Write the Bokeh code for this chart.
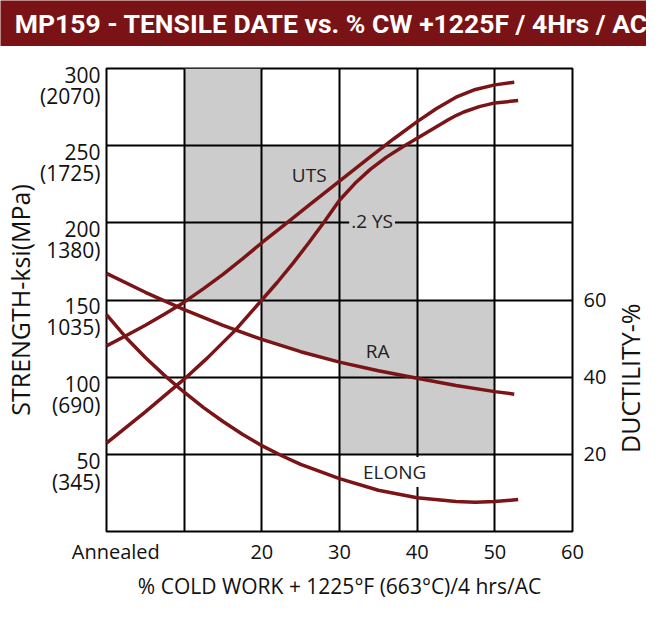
from math import pi

from bokeh.plotting import figure
from bokeh.layouts import column, row
from bokeh.models import Range1d, LinearAxis, FixedTicker, Label
from bokeh.core.properties import value
from bokeh.embed import file_html
from bokeh.resources import INLINE

TITLE = "MP159 - TENSILE DATE vs. % CW +1225F / 4Hrs / AC"
BAR = "#7a1315"
RED = "#7b1416"
GREY = "#cccccc"
FONT = "Open Sans"
INK = "#111111"

# % cold work -> strength (ksi)
uts_cw = [0, 2.5, 5, 7.5, 10, 12.5, 15, 17.5, 20, 22.5, 26, 30, 34, 37, 40, 42.5, 45, 47.5, 50, 52.5]
uts_ksi = [120.3, 126.8, 133.6, 141, 148.6, 157.4, 166.6, 176.6, 187.1, 197.1, 211.1, 227.1,
           242.9, 254.5, 265.6, 274.1, 281.4, 286.4, 289.4, 291.1]
ys_cw = [0, 5, 10, 13, 16.5, 20, 22, 24, 26, 28, 30, 32, 34, 36, 38, 40, 42, 44, 45, 46, 48, 50, 53]
ys_ksi = [57.2, 77.5, 98.7, 112.5, 130, 150, 161.5, 173.7, 186.8, 200.4, 214.6, 225.6, 234.8,
          242.4, 248.8, 254.8, 260.8, 266.8, 269.5, 271.8, 275.3, 277.7, 279.2]

# % cold work -> ductility (%)
ra_cw = [0, 5, 10, 15, 20, 25, 30, 35, 40, 45, 50, 52.5]
ra_pct = [66.9, 62.0, 57.5, 53.4, 49.8, 46.6, 43.9, 41.65, 39.7, 37.85, 36.25, 35.6]
elong_cw = [0, 2.5, 5, 7.5, 10, 12.5, 15, 17.5, 20, 22.5, 25, 30, 35, 40, 45, 47.5, 50, 53]
elong_pct = [56.2, 50.3, 45.1, 40.4, 36.1, 32.1, 28.5, 25.2, 22.25, 19.7, 17.4, 13.7, 10.7,
             8.75, 7.8, 7.6, 7.75, 8.3]

# axis ticks
ksi_ticks = [50, 100, 150, 200, 250, 300]
ksi_labels = ["50\n(345)", "100\n(690)", "150\n1035)", "200\n1380)", "250\n(1725)", "300\n(2070)"]
duct_ticks = [20, 40, 60]
cw_grid = [10, 20, 30, 40, 50]
cw_ticks = [20, 30, 40, 50, 60]

# grey shaded cells: cold work span x ksi span
shade_left = [10, 30, 40]
shade_right = [20, 40, 50]
shade_bottom = [150, 50, 50]
shade_top = [300, 250, 150]

# title bar
t = figure(width=646, height=46, x_range=Range1d(0, 1), y_range=Range1d(0, 1),
           x_axis_type=None, y_axis_type=None, min_border=0,
           output_backend="svg", toolbar_location=None)
t.outline_line_color = None
t.background_fill_color = BAR
t.border_fill_color = BAR
t.text(x=[0.512], y=[0.5], text=[TITLE], text_align="center", text_baseline="middle",
       text_color="white", text_font=value("Roboto"),
       text_font_style="bold", text_font_size="26.5px")

# main chart
p = figure(width=612, height=556, x_range=Range1d(0, 60), y_range=Range1d(0, 300),
           output_backend="svg", toolbar_location=None,
           min_border_left=106, min_border_right=40, min_border_top=22, min_border_bottom=66)
p.extra_y_ranges = {"duct": Range1d(0, 120)}
p.outline_line_color = "black"
p.outline_line_width = 2

p.xgrid.ticker = FixedTicker(ticks=cw_grid)
p.ygrid.ticker = FixedTicker(ticks=ksi_ticks[:-1])
p.grid.grid_line_color = "black"
p.grid.grid_line_width = 2

# shaded region
p.quad(left=shade_left, right=shade_right, bottom=shade_bottom, top=shade_top,
       fill_color=GREY, line_color=None, level="image")
ra_mid = [(c, v * 2.5) for c, v in zip(ra_cw, ra_pct) if 20 <= c <= 30]
p.patch([20, 30] + [c for c, _ in ra_mid][::-1], [250, 250] + [k for _, k in ra_mid][::-1],
        fill_color=GREY, line_color=None, level="image")

# curves (drawn over the label boxes)
p.line(uts_cw, uts_ksi, line_color=RED, line_width=3.5, level="overlay")
p.line(ys_cw, ys_ksi, line_color=RED, line_width=3.5, level="overlay")
p.line(ra_cw, ra_pct, line_color=RED, line_width=3.5, y_range_name="duct", level="overlay")
p.line(elong_cw, elong_pct, line_color=RED, line_width=3.5, y_range_name="duct", level="overlay")

# axes
xa = p.xaxis[0]
xa.ticker = FixedTicker(ticks=[1.2] + cw_ticks)
xa.major_label_overrides = {1.2: "Annealed", **{c: str(c) for c in cw_ticks}}
xa.axis_label = "% COLD WORK + 1225°F (663°C)/4 hrs/AC"
xa.axis_label_standoff = 4

ya = p.yaxis[0]
ya.ticker = FixedTicker(ticks=[k - 11 for k in ksi_ticks])
ya.major_label_overrides = {k - 11: s for k, s in zip(ksi_ticks, ksi_labels)}
ya.major_label_text_line_height = 0.75
ya.axis_label = "STRENGTH-ksi(MPa)"
ya.axis_label_standoff = 0

ra_axis = LinearAxis(y_range_name="duct", ticker=FixedTicker(ticks=duct_ticks))
p.add_layout(ra_axis, "right")

for ax in [xa, ya, ra_axis]:
    ax.axis_line_color = None
    ax.major_tick_in = 0
    ax.major_tick_out = 0
    ax.minor_tick_line_color = None
    ax.major_label_text_font = FONT
    ax.major_label_text_font_size = "20px"
    ax.major_label_text_color = INK
    ax.axis_label_text_font = FONT
    ax.axis_label_text_font_style = "normal"
    ax.axis_label_text_color = INK
xa.axis_label_text_font_size = "21px"
ya.axis_label_text_font_size = "25px"
ya.major_label_text_font_size = "21px"
xa.major_label_standoff = 6
ya.major_label_standoff = 6
ra_axis.major_label_standoff = 11

# curve names
p.add_layout(Label(x=26.1, y=230.8, text="UTS", text_align="center", text_baseline="middle",
                   text_font=FONT, text_font_size="19px", text_color="#222222"))
p.add_layout(Label(x=34.2, y=201.3, text=".2 YS", text_align="center", text_baseline="middle",
                   text_font=FONT, text_font_size="19px", text_color="#222222",
                   background_fill_color=GREY, padding=2))
p.add_layout(Label(x=34.9, y=116.7, text="RA", text_align="center", text_baseline="middle",
                   text_font=FONT, text_font_size="19px", text_color="#222222"))
p.add_layout(Label(x=37.1, y=38.5, text="ELONG", text_align="center", text_baseline="middle",
                   text_font=FONT, text_font_size="19px", text_color="#222222",
                   background_fill_color="white", padding=2))

# right-hand axis title, placed low like the original
s = figure(width=34, height=556, x_range=Range1d(0, 34), y_range=Range1d(0, 556),
           x_axis_type=None, y_axis_type=None, min_border=0,
           output_backend="svg", toolbar_location=None)
s.outline_line_color = None
s.text(x=[17.5], y=[184], text=["DUCTILITY-%"], angle=pi / 2, text_align="center",
       text_baseline="middle", text_color=INK, text_font=value(FONT), text_font_size="25px")

page = column(t, row(p, s))
open("out.html", "w").write(file_html(page, INLINE))
